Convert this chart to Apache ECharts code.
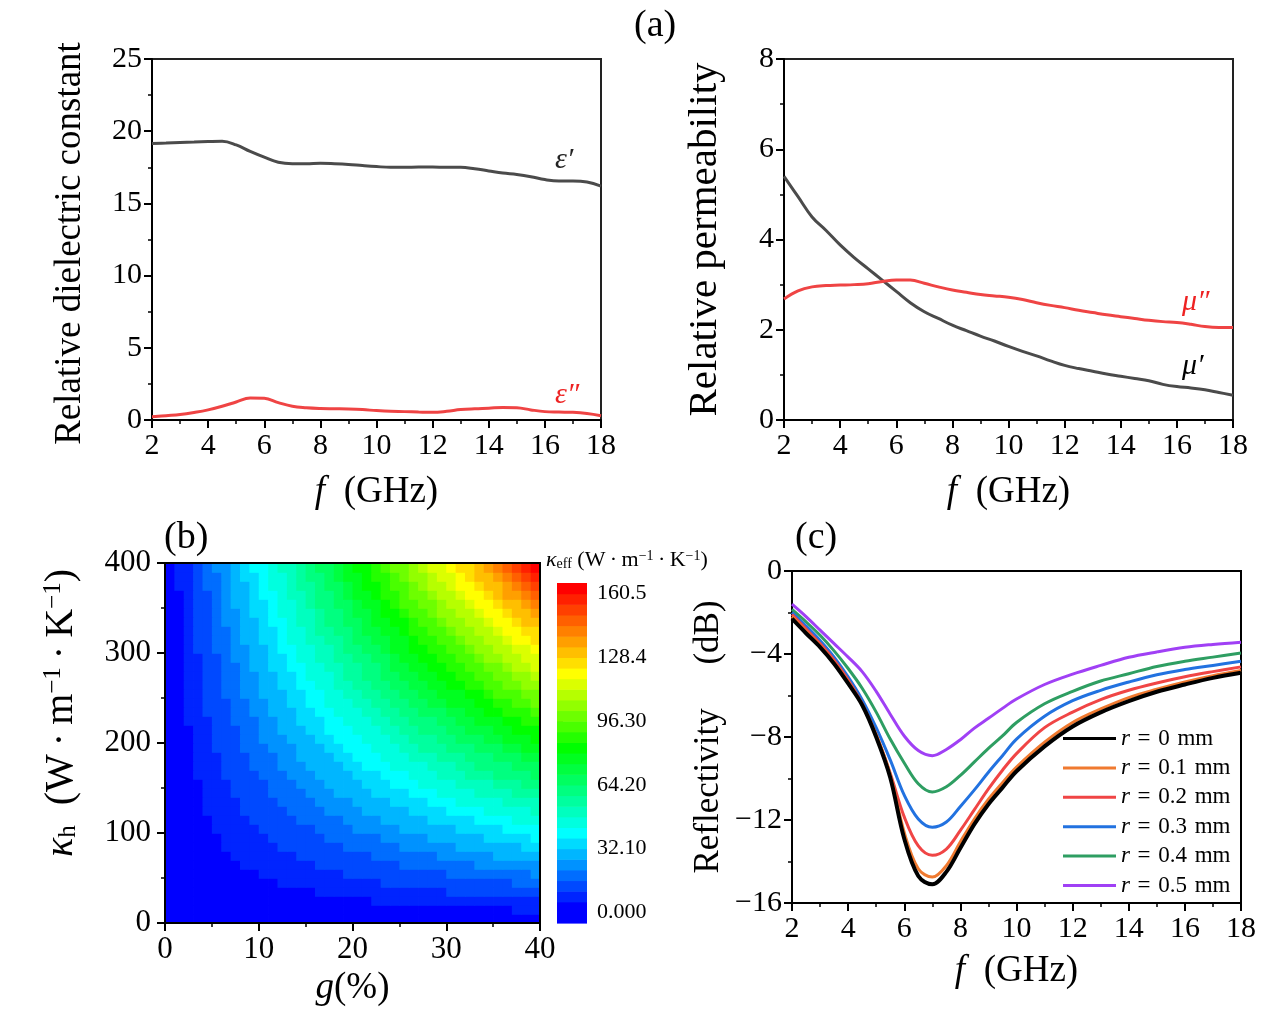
<!DOCTYPE html>
<html><head><meta charset="utf-8">
<script src="https://cdn.jsdelivr.net/npm/echarts@6/dist/echarts.min.js"></script>
<style>html,body{margin:0;padding:0;background:#fff}#c{width:1273px;height:1019px}</style>
</head><body><div id="c"></div>
<script>
// ---------- DATA ----------
// Panel (a): frequency (GHz)
const FREQ_A = [2,2.5,3,3.5,4,4.5,5,5.5,6,6.5,7,7.5,8,8.5,9,9.5,10,10.5,11,11.5,12,12.5,13,13.5,14,14.5,15,15.5,16,16.5,17,17.5,18];
const EPS_REAL = [19.15,19.18,19.22,19.25,19.28,19.3,19.05,18.6,18.2,17.85,17.75,17.75,17.78,17.75,17.7,17.62,17.55,17.5,17.5,17.52,17.52,17.5,17.5,17.4,17.25,17.1,17.0,16.85,16.65,16.55,16.55,16.48,16.2];
const EPS_IMAG = [0.22,0.3,0.38,0.52,0.7,0.95,1.25,1.52,1.5,1.2,0.95,0.85,0.8,0.78,0.76,0.72,0.65,0.6,0.58,0.55,0.53,0.6,0.72,0.78,0.82,0.87,0.85,0.7,0.58,0.55,0.53,0.45,0.3];
const MU_REAL = [5.4,4.95,4.5,4.2,3.88,3.6,3.35,3.1,2.85,2.6,2.4,2.25,2.1,1.98,1.86,1.75,1.63,1.52,1.42,1.31,1.21,1.14,1.08,1.02,0.97,0.92,0.87,0.79,0.74,0.71,0.67,0.61,0.55];
const MU_IMAG = [2.68,2.86,2.95,2.98,2.99,3.0,3.02,3.07,3.1,3.1,3.03,2.95,2.88,2.83,2.78,2.75,2.72,2.67,2.6,2.54,2.49,2.43,2.38,2.33,2.29,2.25,2.21,2.18,2.16,2.12,2.07,2.05,2.05];

// Panel (b): cell centres g (%) and kappa_h; kappa_eff values (one row per kappa_h)
const G_CENTERS = [0.5,1.5,2.5,3.5,4.5,5.5,6.5,7.5,8.5,9.5,10.5,11.5,12.5,13.5,14.5,15.5,16.5,17.5,18.5,19.5,20.5,21.5,22.5,23.5,24.5,25.5,26.5,27.5,28.5,29.5,30.5,31.5,32.5,33.5,34.5,35.5,36.5,37.5,38.5,39.5];
const KH_CENTERS = [5,15,25,35,45,55,65,75,85,95,105,115,125,135,145,155,165,175,185,195,205,215,225,235,245,255,265,275,285,295,305,315,325,335,345,355,365,375,385,395];
const KEFF = [
[0,0,0,0,0,0,0,0,0,0,1,1,1,1,1,1,1,1,1,1,1,1,1,1,1,1,1,1,1,1,2,2,2,2,2,2,2,2,2,2],
[0,0,0,1,1,1,1,1,1,1,2,2,2,2,2,2,2,3,3,3,3,3,3,4,4,4,4,4,4,4,5,5,5,5,5,5,5,6,6,6],
[0,0,1,1,1,1,2,2,2,2,3,3,3,3,4,4,4,4,5,5,5,5,6,6,6,6,7,7,7,7,8,8,8,8,9,9,9,9,10,10],
[0,1,1,1,2,2,2,3,3,3,4,4,4,5,5,5,6,6,6,7,7,8,8,8,9,9,9,10,10,10,11,11,11,12,12,12,13,13,13,14],
[0,1,1,2,2,2,3,3,4,4,5,5,6,6,7,7,7,8,8,9,9,10,10,11,11,11,12,12,13,13,14,14,15,15,16,16,16,17,17,18],
[0,1,1,2,2,3,4,4,5,5,6,6,7,7,8,9,9,10,10,11,11,12,12,13,13,14,15,15,16,16,17,17,18,18,19,20,20,21,21,22],
[0,1,2,2,3,4,4,5,6,6,7,7,8,9,9,10,11,11,12,13,13,14,15,15,16,17,17,18,19,19,20,20,21,22,22,23,24,24,25,26],
[0,1,2,3,3,4,5,6,6,7,8,9,9,10,11,12,12,13,14,15,15,16,17,18,18,19,20,21,21,22,23,24,24,25,26,27,27,28,29,30],
[0,1,2,3,4,5,6,6,7,8,9,10,11,11,12,13,14,15,16,17,17,18,19,20,21,22,23,23,24,25,26,27,28,28,29,30,31,32,33,34],
[0,1,2,3,4,5,6,7,8,9,10,11,12,13,14,15,16,17,18,19,19,20,21,22,23,24,25,26,27,28,29,30,31,32,33,34,35,36,37,38],
[1,2,3,4,5,6,7,8,9,10,11,12,13,14,15,16,17,18,19,20,22,23,24,25,26,27,28,29,30,31,32,33,34,35,36,37,38,39,40,41],
[1,2,3,4,5,6,7,9,10,11,12,13,14,16,17,18,19,20,21,22,24,25,26,27,28,29,30,32,33,34,35,36,37,39,40,41,42,43,44,45],
[1,2,3,4,6,7,8,9,11,12,13,14,16,17,18,19,21,22,23,24,26,27,28,29,31,32,33,34,36,37,38,39,41,42,43,44,46,47,48,49],
[1,2,3,5,6,7,9,10,11,13,14,16,17,18,20,21,22,24,25,26,28,29,30,32,33,34,36,37,38,40,41,43,44,45,47,48,49,51,52,53],
[1,2,4,5,7,8,9,11,12,14,15,17,18,20,21,22,24,25,27,28,30,31,33,34,36,37,38,40,41,43,44,46,47,49,50,51,53,54,56,57],
[1,2,4,5,7,9,10,12,13,15,16,18,19,21,22,24,26,27,29,30,32,33,35,36,38,40,41,43,44,46,47,49,50,52,53,55,57,58,60,61],
[1,2,4,6,7,9,11,12,14,16,17,19,21,22,24,26,27,29,31,32,34,35,37,39,40,42,44,45,47,49,50,52,54,55,57,59,60,62,64,65],
[1,3,4,6,8,10,11,13,15,17,18,20,22,24,25,27,29,31,32,34,36,38,39,41,43,45,46,48,50,52,53,55,57,59,60,62,64,66,67,69],
[1,3,5,6,8,10,12,14,16,18,19,21,23,25,27,29,31,32,34,36,38,40,42,43,45,47,49,51,53,55,56,58,60,62,64,66,68,69,71,73],
[1,3,5,7,9,11,13,15,17,19,20,22,24,26,28,30,32,34,36,38,40,42,44,46,48,50,52,54,56,58,59,61,63,65,67,69,71,73,75,77],
[1,3,5,7,9,11,13,15,17,19,22,24,26,28,30,32,34,36,38,40,42,44,46,48,50,52,54,56,58,60,63,65,67,69,71,73,75,77,79,81],
[1,3,5,8,10,12,14,16,18,20,23,25,27,29,31,33,35,38,40,42,44,46,48,51,53,55,57,59,61,63,66,68,70,72,74,76,78,81,83,85],
[1,3,6,8,10,12,15,17,19,21,24,26,28,30,33,35,37,39,42,44,46,48,51,53,55,57,60,62,64,66,69,71,73,75,78,80,82,84,87,89],
[1,4,6,8,11,13,15,18,20,22,25,27,29,32,34,36,39,41,43,46,48,51,53,55,58,60,62,65,67,69,72,74,76,79,81,83,86,88,90,93],
[1,4,6,9,11,13,16,18,21,23,26,28,31,33,36,38,40,43,45,48,50,53,55,58,60,62,65,67,70,72,75,77,80,82,85,87,89,92,94,97],
[1,4,6,9,11,14,17,19,22,24,27,29,32,34,37,40,42,45,47,50,52,55,57,60,62,65,68,70,73,75,78,80,83,85,88,91,93,96,98,101],
[1,4,7,9,12,15,17,20,23,25,28,30,33,36,38,41,44,46,49,52,54,57,60,62,65,68,70,73,76,78,81,83,86,89,91,94,97,99,102,105],
[1,4,7,10,12,15,18,21,23,26,29,32,34,37,40,43,45,48,51,54,56,59,62,65,67,70,73,76,78,81,84,87,89,92,95,98,100,103,106,109],
[1,4,7,10,13,16,19,21,24,27,30,33,36,38,41,44,47,50,53,56,58,61,64,67,70,73,76,78,81,84,87,90,93,95,98,101,104,107,110,113],
[1,4,7,10,13,16,19,22,25,28,31,34,37,40,43,46,49,52,55,58,60,63,66,69,72,75,78,81,84,87,90,93,96,99,102,105,108,111,114,117],
[2,5,8,11,14,17,20,23,26,29,32,35,38,41,44,47,50,53,56,59,63,66,69,72,75,78,81,84,87,90,93,96,99,102,105,108,111,114,117,120],
[2,5,8,11,14,17,20,24,27,30,33,36,39,43,46,49,52,55,58,61,65,68,71,74,77,80,83,87,90,93,96,99,102,106,109,112,115,118,121,124],
[2,5,8,11,15,18,21,24,28,31,34,37,41,44,47,50,54,57,60,63,67,70,73,76,80,83,86,89,93,96,99,102,106,109,112,115,119,122,125,128],
[2,5,8,12,15,18,22,25,28,32,35,39,42,45,49,52,55,59,62,65,69,72,75,79,82,85,89,92,95,99,102,106,109,112,116,119,122,126,129,132],
[2,5,9,12,16,19,22,26,29,33,36,40,43,47,50,53,57,60,64,67,71,74,78,81,85,88,91,95,98,102,105,109,112,116,119,122,126,129,133,136],
[2,5,9,12,16,20,23,27,30,34,37,41,44,48,51,55,59,62,66,69,73,76,80,83,87,91,94,98,101,105,108,112,115,119,122,126,130,133,137,142],
[2,5,9,13,16,20,24,27,31,35,38,42,46,49,53,57,60,64,68,71,75,78,82,86,89,93,97,100,104,108,111,115,119,122,126,130,134,138,142,147],
[2,6,9,13,17,21,24,28,32,36,39,43,47,51,54,58,62,66,69,73,77,81,84,88,92,96,99,103,107,111,114,118,122,126,129,133,139,144,149,154],
[2,6,10,13,17,21,25,29,33,37,40,44,48,52,56,60,64,67,71,75,79,83,87,90,94,98,102,106,110,114,117,121,125,129,133,138,143,148,153,159],
[2,6,10,14,18,22,26,30,34,38,41,45,49,53,57,61,65,69,73,77,81,85,89,93,97,101,105,109,113,117,120,124,128,132,137,142,147,153,159,165]
];
const CB_TICKS = [0,32.1,64.2,96.3,128.4,160.5];
const CB_TICK_LABELS = ['0.000','32.10','64.20','96.30','128.4','160.5'];
const CONTOUR_STEP = 5.35;

// Panel (c)
const FREQ_C = [2,2.5,3,3.5,4,4.5,5,5.5,6,6.5,7,7.5,8,8.5,9,9.5,10,11,12,13,14,15,16,17,18];
const R_VALUES = ['0','0.1','0.2','0.3','0.4','0.5'];
const REFL_R0 = [-2.3,-3.0,-3.67,-4.47,-5.42,-6.46,-8.0,-9.95,-12.9,-14.7,-15.1,-14.5,-13.35,-12.2,-11.24,-10.44,-9.65,-8.45,-7.49,-6.81,-6.27,-5.82,-5.47,-5.15,-4.9];
const REFL_R1 = [-2.2,-2.9,-3.6,-4.4,-5.35,-6.45,-7.9,-9.8,-12.6,-14.35,-14.75,-14.2,-13.05,-11.95,-11.0,-10.2,-9.45,-8.25,-7.3,-6.65,-6.1,-5.7,-5.35,-5.05,-4.8];
const REFL_R2 = [-2.1,-2.8,-3.5,-4.3,-5.25,-6.4,-7.9,-9.75,-11.85,-13.25,-13.7,-13.4,-12.5,-11.5,-10.5,-9.6,-8.8,-7.55,-6.8,-6.2,-5.75,-5.4,-5.1,-4.85,-4.62];
const REFL_R3 = [-2.0,-2.65,-3.35,-4.15,-5.1,-6.2,-7.55,-9.1,-10.8,-11.95,-12.35,-12.1,-11.35,-10.55,-9.7,-8.9,-8.1,-7.0,-6.25,-5.75,-5.35,-5.0,-4.75,-4.55,-4.35];
const REFL_R4 = [-1.85,-2.45,-3.1,-3.85,-4.7,-5.65,-6.8,-8.1,-9.25,-10.25,-10.65,-10.4,-9.85,-9.2,-8.55,-7.95,-7.3,-6.4,-5.8,-5.3,-4.95,-4.6,-4.35,-4.15,-3.95];
const REFL_R5 = [-1.6,-2.2,-2.85,-3.5,-4.15,-4.85,-5.8,-6.9,-7.95,-8.65,-8.9,-8.6,-8.13,-7.57,-7.1,-6.62,-6.17,-5.47,-4.97,-4.55,-4.16,-3.9,-3.68,-3.54,-3.43];

// ---------- STYLE / BUILD ----------
const SERIF = '"Liberation Serif","DejaVu Serif",serif';
const REFL_COLORS = ['#000000','#f07a30','#f04545','#2272e0','#2e9e62','#a040f5'];
const REFL_SETS = [REFL_R0,REFL_R1,REFL_R2,REFL_R3,REFL_R4,REFL_R5];
const SP = '\u2002';  // en space
const SP3 = '\u2004'; // three-per-em space

function bandColor(k){
  let r,g,b;
  if (k<=1){r=0;g=0;b=255;}
  else if (k<=8){r=0;g=Math.round(255*(k-1)/7);b=255;}
  else if (k<=16){r=0;g=255;b=Math.round(255*(16-k)/8);}
  else if (k<=23){r=Math.round(255*(k-16)/7);g=255;b=0;}
  else {r=255;g=Math.round(255*Math.max(0,31-k)/8);b=0;}
  return 'rgb('+r+','+g+','+b+')';
}
const pair = (xs, ys) => xs.map((x,i)=>[x, ys[i]]);

const heatData = [];
KH_CENTERS.forEach((k,i)=>G_CENTERS.forEach((g,j)=>heatData.push([g,k,KEFF[i][j]])));
const G_HALF = (G_CENTERS[1]-G_CENTERS[0])/2;
const K_HALF = (KH_CENTERS[1]-KH_CENTERS[0])/2;
const CB_MIN = CB_TICKS[0]-CONTOUR_STEP;
const CB_MAX = CB_TICKS[CB_TICKS.length-1]+CONTOUR_STEP;
const cbBands = [];
for (let j=0; CB_MIN + j*CONTOUR_STEP < CB_MAX - 1e-6; j++){
  cbBands.push([CB_MIN + j*CONTOUR_STEP, CB_MIN + (j+1)*CONTOUR_STEP, j]);
}

function rich(fs){
  return {
    it:{fontStyle:'italic', fontFamily:SERIF, fontSize:fs, color:'#000'},
    n:{fontFamily:SERIF, fontSize:fs, color:'#000'},
    sub:{fontFamily:SERIF, fontSize:Math.round(fs*0.62), verticalAlign:'bottom', color:'#000'},
    sup:{fontFamily:SERIF, fontSize:Math.round(fs*0.62), verticalAlign:'top', color:'#000'}
  };
}
function ax(o){
  const fs = o.fs, nfs = o.nfs||37;
  return Object.assign({
    type:'value',
    axisLine:{show:true, onZero:false, lineStyle:{color:'#000', width:2}},
    axisTick:{show:true, inside:false, length:8, lineStyle:{color:'#000', width:2}},
    minorTick:{show:true, splitNumber:2, length:4, lineStyle:{color:'#000', width:1.5}},
    splitLine:{show:false},
    axisLabel:{color:'#000', fontFamily:SERIF, fontSize:fs, margin:o.margin||11, formatter:o.fmt},
    nameLocation:'middle',
    nameTextStyle:Object.assign({color:'#000', fontFamily:SERIF, fontSize:nfs, rich:rich(nfs)}, o.nts||{})
  }, o.extra);
}
const minusFmt = v => v<0 ? '\u2212'+(-v) : String(v);

const option = {
  animation:false,
  backgroundColor:'#fff',
  textStyle:{fontFamily:SERIF},
  grid:[
    {left:152, top:59, width:449, height:361, show:true, borderColor:'#222', borderWidth:2, backgroundColor:'transparent', outerBoundsMode:'none'},
    {left:784, top:59, width:449, height:361, show:true, borderColor:'#222', borderWidth:2, backgroundColor:'transparent', outerBoundsMode:'none'},
    {left:165, top:563, width:375, height:360, show:true, borderColor:'#000', borderWidth:2, backgroundColor:'transparent', z:5, outerBoundsMode:'none'},
    {left:557, top:583, width:30, height:340, show:false, outerBoundsMode:'none'},
    {left:792, top:571, width:449, height:332, show:true, borderColor:'#000', borderWidth:2, backgroundColor:'transparent', outerBoundsMode:'none'}
  ],
  xAxis:[
    ax({fs:30, margin:11, extra:{gridIndex:0, min:2, max:18, interval:2, name:'{it|f}'+SP+'(GHz)', nameGap:54}}),
    ax({fs:30, margin:11, extra:{gridIndex:1, min:2, max:18, interval:2, name:'{it|f}'+SP+'(GHz)', nameGap:54}}),
    ax({fs:31, margin:11, extra:{gridIndex:2, min:0, max:40, interval:10, name:'{it|g}(%)', nameGap:47, z:6}}),
    {gridIndex:3, type:'value', min:0, max:1, show:false},
    ax({fs:30, margin:11, extra:{gridIndex:4, min:2, max:18, interval:2, name:'{it|f}'+SP+'(GHz)', nameGap:50}})
  ],
  yAxis:[
    ax({fs:30, margin:10, nfs:37, nts:{padding:[0,8,0,0]}, extra:{gridIndex:0, min:0, max:25, interval:5, name:'Relative dielectric constant', nameGap:63}}),
    ax({fs:30, margin:10, nfs:41, extra:{gridIndex:1, min:0, max:8, interval:2, name:'Relative permeability', nameGap:58}}),
    ax({fs:31, margin:14, nfs:40, nts:{padding:[0,0,0,60]}, extra:{gridIndex:2, min:0, max:400, interval:100, z:6,
      name:'{it|\u03ba}{sub|h}'+SP+'(W\u2009\u00b7\u2009m{sup|\u22121}\u2009\u00b7\u2009K{sup|\u22121})', nameGap:84}}),
    {gridIndex:3, type:'value', min:CB_MIN, max:CB_MAX, position:'right',
      axisLine:{show:false}, splitLine:{show:false},
      axisTick:{show:true, inside:false, length:6, customValues:CB_TICKS, lineStyle:{color:'#000', width:1.2}},
      axisLabel:{customValues:CB_TICKS, color:'#000', fontFamily:SERIF, fontSize:22, margin:10,
        formatter: v => { const i = CB_TICKS.findIndex(t=>Math.abs(t-v)<1e-6); return i>=0 ? CB_TICK_LABELS[i] : ''; }}},
    ax({fs:30, margin:10, nfs:35, fmt:minusFmt, extra:{gridIndex:4, min:-16, max:0, interval:4, name:'Reflectivity\u2003 (dB)', nameGap:66}})
  ],
  legend:{
    data: R_VALUES.map((r,i)=>'r'+i),
    orient:'vertical', left:1058, top:722, itemWidth:53, itemHeight:3, itemGap:6.4, icon:'rect',
    textStyle:{fontFamily:SERIF, fontSize:23, color:'#000', rich:rich(23)},
    formatter: name => { const i = +name.slice(1); return '{it|r}{n|'+SP3+'='+SP3+R_VALUES[i]+SP3+'mm}'; }
  },
  series:[
    {type:'line', xAxisIndex:0, yAxisIndex:0, data:pair(FREQ_A, EPS_REAL), smooth:0.4, showSymbol:false, lineStyle:{color:'#4b4b4b', width:3}, itemStyle:{color:'#4b4b4b'}},
    {type:'line', xAxisIndex:0, yAxisIndex:0, data:pair(FREQ_A, EPS_IMAG), smooth:0.4, showSymbol:false, lineStyle:{color:'#ef4444', width:3}, itemStyle:{color:'#ef4444'}},
    {type:'line', xAxisIndex:1, yAxisIndex:1, data:pair(FREQ_A, MU_REAL), smooth:0.4, showSymbol:false, lineStyle:{color:'#4b4b4b', width:3}, itemStyle:{color:'#4b4b4b'}},
    {type:'line', xAxisIndex:1, yAxisIndex:1, data:pair(FREQ_A, MU_IMAG), smooth:0.4, showSymbol:false, lineStyle:{color:'#ef4444', width:3}, itemStyle:{color:'#ef4444'}},
    {type:'custom', xAxisIndex:2, yAxisIndex:2, data:heatData, clip:true, z:2,
      renderItem:(params, api)=>{
        const g=api.value(0), k=api.value(1), v=api.value(2);
        const p0=api.coord([g-G_HALF, k+K_HALF]), p1=api.coord([g+G_HALF, k-K_HALF]);
        return {type:'rect', shape:{x:p0[0], y:p0[1], width:p1[0]-p0[0]+0.8, height:p1[1]-p0[1]+0.8},
          style:{fill:bandColor(Math.floor(v/CONTOUR_STEP)+1)}};
      }},
    {type:'custom', xAxisIndex:3, yAxisIndex:3, data:cbBands,
      renderItem:(params, api)=>{
        const lo=api.value(0), hi=api.value(1), j=api.value(2);
        const p0=api.coord([0, hi]), p1=api.coord([1, lo]);
        return {type:'rect', shape:{x:p0[0], y:p0[1], width:p1[0]-p0[0], height:p1[1]-p0[1]+0.6},
          style:{fill:bandColor(j)}};
      }},
    ...REFL_SETS.map((arr,i)=>({
      type:'line', name:'r'+i, xAxisIndex:4, yAxisIndex:4, data:pair(FREQ_C, arr), smooth:0.35,
      showSymbol:false, symbol:'none', z:10-i,
      lineStyle:{color:REFL_COLORS[i], width: i===0?4:3}, itemStyle:{color:REFL_COLORS[i]}
    }))
  ],
  graphic:[
    {type:'text', left:634, top:7, style:{text:'(a)', font:'38px '+SERIF, fill:'#000'}},
    {type:'text', left:164, top:519, style:{text:'(b)', font:'38px '+SERIF, fill:'#000'}},
    {type:'text', left:795, top:519, style:{text:'(c)', font:'38px '+SERIF, fill:'#000'}},
    {type:'text', left:555, top:145, style:{text:'\u03b5\u2032', font:'italic 30px '+SERIF, fill:'#222'}},
    {type:'text', left:555, top:380, style:{text:'\u03b5\u2033', font:'italic 30px '+SERIF, fill:'#ee2222'}},
    {type:'text', left:1182, top:287, style:{text:'\u03bc\u2033', font:'italic 30px '+SERIF, fill:'#ee2222'}},
    {type:'text', left:1182, top:351, style:{text:'\u03bc\u2032', font:'italic 30px '+SERIF, fill:'#000'}},
    {type:'text', left:546, top:549, style:{text:'{it|\u03ba}{sub|eff} (W\u2009\u00b7\u2009m{sup|\u22121}\u2009\u00b7\u2009K{sup|\u22121})', rich:rich(22), font:'22px '+SERIF, fill:'#000'}}
  ]
};
const chart = echarts.init(document.getElementById('c'));
chart.setOption(option);
</script>
</body></html>
